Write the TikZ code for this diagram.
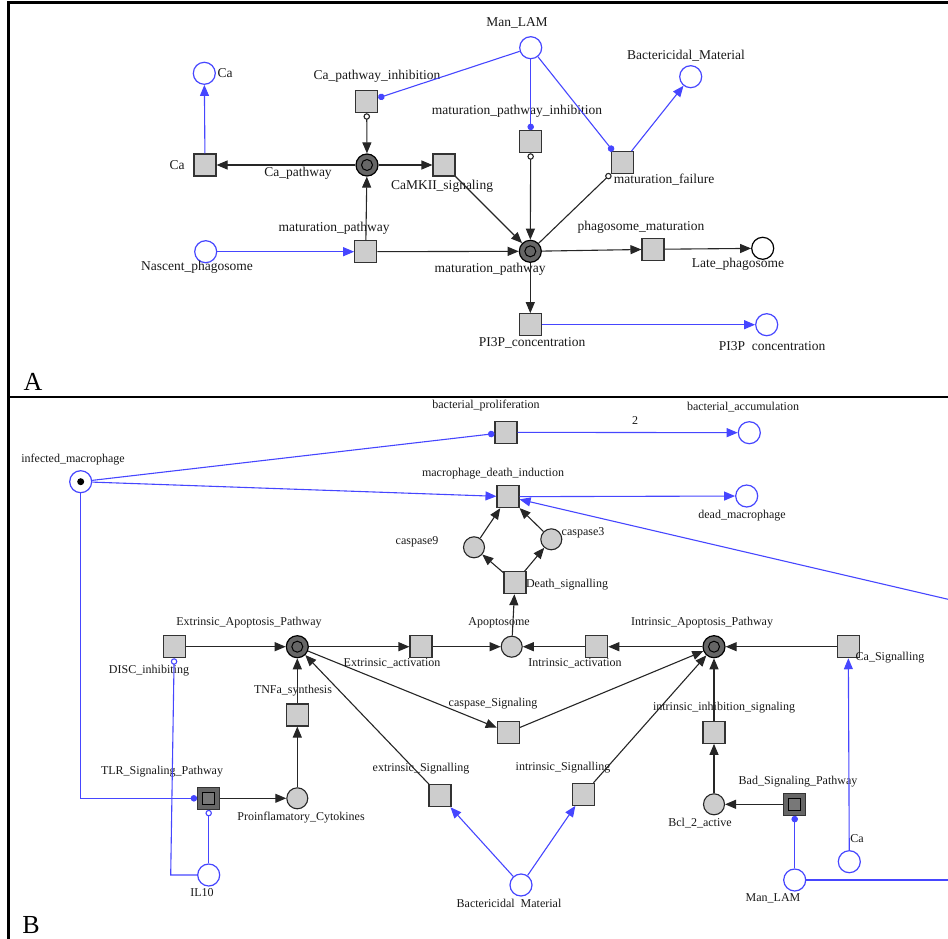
\documentclass[tikz,border=0pt]{standalone}
\usepackage{fontspec}
\setmainfont{Liberation Serif}
\usetikzlibrary{arrows.meta}
\definecolor{pblue}{RGB}{70,70,255}
\definecolor{tgray}{RGB}{205,205,205}
\definecolor{dgray}{RGB}{102,102,102}
\definecolor{igray}{RGB}{120,120,120}
\begin{document}
\begin{tikzpicture}[x=1pt,y=-1pt,
  trans/.style={rectangle, draw=black!80, fill=tgray, minimum size=22pt, inner sep=0pt, line width=1.1pt},
  dtrans/.style={trans, fill=dgray, path picture={\draw[black, fill=igray, line width=1pt, shift={(path picture bounding box.center)}] (-6,-6) rectangle (6,6);}},
  place/.style={circle, draw=pblue, fill=white, minimum size=22pt, inner sep=0pt, line width=1.2pt},
  tplace/.style={place, path picture={\fill[black] (path picture bounding box.center) circle (3.5pt);}},
  kplace/.style={place, draw=black},
  gplace/.style={circle, draw=black!85, fill=tgray, minimum size=21pt, inner sep=0pt, line width=1.1pt},
  dplace/.style={circle, draw=black, fill=dgray, minimum size=22pt, inner sep=0pt, line width=1.2pt, path picture={\draw[black, line width=1pt] (path picture bounding box.center) circle (5.5pt);}},
  labA/.style={font=\fontsize{13.5}{15}\selectfont, text=black!90, inner sep=0pt},
  labB/.style={font=\fontsize{12}{14}\selectfont, text=black!90, inner sep=0pt},
  big/.style={font=\fontsize{26}{28}\selectfont, inner sep=0pt},
  arr/.style={-{Triangle[length=11pt,width=9pt]}, line width=1.1pt, draw=black!85},
  barr/.style={-{Triangle[length=11pt,width=9pt]}, line width=1.1pt, draw=pblue},
  rd/.style={-{Circle[length=6.5pt]}, line width=1.1pt, draw=pblue},
  binh/.style={-{Circle[length=6.5pt, fill=white]}, line width=1.1pt, draw=pblue},
  inharr/.style={{Circle[length=6.5pt, fill=white]}-{Triangle[length=11pt,width=9pt]}, line width=1.1pt, draw=black!85},
  inh/.style={-{Circle[length=6.5pt, fill=white]}, line width=1.1pt, draw=black!85},
  frame/.style={line width=2.5pt, draw=black}
]
\useasboundingbox (0,0) rectangle (948,939);
% frame
\draw[frame] (8,2.5) -- (948,2.5);
\draw[frame] (8.5,1.3) -- (8.5,939);
\draw[frame] (8,397) -- (948,397);

% ===== Panel A =====
\node[place] (caP) at (204.3,73.3) {};
\node[trans] (caT) at (205,165) {};
\node[trans] (cpi) at (366.7,101.7) {};
\node[dplace] (cap) at (367,165) {};
\node[trans] (camk) at (444,165) {};
\node[place] (man) at (530.7,47.7) {};
\node[place] (bact) at (690.7,76.7) {};
\node[trans] (mpi) at (530.7,141.7) {};
\node[trans] (mf) at (622.3,162.7) {};
\node[trans] (mpt) at (365.7,251.7) {};
\node[place] (nas) at (205.7,251.7) {};
\node[dplace] (mpp) at (530.3,251.3) {};
\node[trans] (phm) at (653,249.3) {};
\node[kplace] (late) at (762.7,248.3) {};
\node[trans] (pi3t) at (530.3,324.7) {};
\node[place] (pi3p) at (766.7,324.7) {};

\node[labA] (lcaP) at (225,73) {Ca};
\node[labA] (lcaT) at (177,165) {Ca};
\node[labA] (lcpi) at (377,76) {Ca\_pathway\_inhibition};
\node[labA] (lcap) at (298,173) {Ca\_pathway};
\node[labA] (lcamk) at (442,186) {CaMKII\_signaling};
\node[labA] (lman) at (517,23) {Man\_LAM};
\node[labA] (lbact) at (686,56) {Bactericidal\_Material};
\node[labA] (lmpi) at (517,111) {maturation\_pathway\_inhibition};
\node[labA] (lmf) at (664,180) {maturation\_failure};
\node[labA] (lmpt) at (334,228) {maturation\_pathway};
\node[labA] (lnas) at (197,267) {Nascent\_phagosome};
\node[labA] (lmpp) at (490,269) {maturation\_pathway};
\node[labA] (lphm) at (641,227) {phagosome\_maturation};
\node[labA] (llate) at (738,264) {Late\_phagosome};
\node[labA] (lpi3t) at (532,343) {PI3P\_concentration};
\node[labA] (lpi3p) at (772,346) {PI3P\enspace concentration};
\node[big] (lA) at (33,382) {A};

\draw[barr] (caT) -- (caP);
\draw[arr] (cap) -- (caT);
\draw[arr] (cap) -- (camk);
\draw[inharr] (cpi) -- (cap);
\draw[rd] (man) -- (cpi);
\draw[rd] (man) -- (mpi);
\draw[rd] (man) -- (mf);
\draw[barr] (mf) -- (bact);
\draw[inharr] (mpi) -- (mpp);
\draw[inh] (mpp) -- (mf);
\draw[arr] (camk) -- (mpp);
\draw[arr] (mpt) -- (cap);
\draw[arr] (mpt) -- (mpp);
\draw[barr] (nas) -- (mpt);
\draw[arr] (mpp) -- (phm);
\draw[arr] (phm) -- (late);
\draw[arr] (mpp) -- (pi3t);
\draw[barr] (pi3t) -- (pi3p);

% ===== Panel B =====
\node[tplace] (im) at (80.7,481.7) {};
\node[trans] (bp) at (506,432.3) {};
\node[place] (ba) at (749.3,432.7) {};
\node[trans] (mdi) at (508,496.7) {};
\node[place] (dm) at (746.7,496) {};
\node[gplace] (c9) at (474,547.3) {};
\node[gplace] (c3) at (551.3,539.3) {};
\node[trans] (ds) at (515,582.7) {};
\node[gplace] (apo) at (511.7,646.7) {};
\node[trans] (ea) at (421,646.7) {};
\node[trans] (ia) at (596.7,646.7) {};
\node[dplace] (eap) at (297.3,646.7) {};
\node[trans] (disc) at (174.3,646.7) {};
\node[trans] (tnf) at (297.3,715) {};
\node[dtrans] (tlr) at (208.7,798.3) {};
\node[gplace] (pro) at (297.3,798.3) {};
\node[place] (il) at (208.7,875) {};
\node[trans] (es) at (440,795.7) {};
\node[trans] (is) at (583.3,794.3) {};
\node[trans] (cs) at (508.3,732.3) {};
\node[place] (bm) at (521,885) {};
\node[dplace] (iap) at (714,646.7) {};
\node[trans] (cas) at (848.3,646.7) {};
\node[trans] (iis) at (714,732.3) {};
\node[gplace] (bcl) at (714,804.3) {};
\node[dtrans] (bad) at (794.7,804.3) {};
\node[place] (caB) at (849.3,861.7) {};
\node[place] (manB) at (794.7,880) {};
\coordinate (r1) at (952,600.2);
\coordinate (r2) at (952,880);
\coordinate (imc) at (80.7,798.3);
\coordinate (ilc) at (170.7,875);

\node[labB] (lim) at (73,460) {infected\_macrophage};
\node[labB] (lbp) at (486,406) {bacterial\_proliferation};
\node[labB] (lba) at (743,407) {bacterial\_accumulation};
\node[labB] (l2) at (635,421) {2};
\node[labB] (lmdi) at (493,474) {macrophage\_death\_induction};
\node[labB] (ldm) at (742,516) {dead\_macrophage};
\node[labB] (lc9) at (417,542) {caspase9};
\node[labB] (lc3) at (583,533) {caspase3};
\node[labB] (lds) at (567,585) {Death\_signalling};
\node[labB] (lapo) at (499,623) {Apoptosome};
\node[labB] (lea) at (392,663) {Extrinsic\_activation};
\node[labB] (lia) at (575,663) {Intrinsic\_activation};
\node[labB] (leap) at (249,623) {Extrinsic\_Apoptosis\_Pathway};
\node[labB] (ldisc) at (149,671) {DISC\_inhibiting};
\node[labB] (ltnf) at (293,691) {TNFa\_synthesis};
\node[labB] (ltlr) at (162,772) {TLR\_Signaling\_Pathway};
\node[labB] (lpro) at (301,818) {Proinflamatory\_Cytokines};
\node[labB] (lil) at (202,893) {IL10};
\node[big] (lB) at (31,925) {B};
\node[labB] (les) at (421,769) {extrinsic\_Signalling};
\node[labB] (lis) at (563,768) {intrinsic\_Signalling};
\node[labB] (lcs) at (493,704) {caspase\_Signaling};
\node[labB] (lbm) at (509,903) {Bactericidal\enspace Material};
\node[labB] (liap) at (702,623) {Intrinsic\_Apoptosis\_Pathway};
\node[labB] (lcas) at (890,658) {Ca\_Signalling};
\node[labB] (liis) at (724,708) {intrinsic\_inhibition\_signaling};
\node[labB] (lbcl) at (700,823) {Bcl\_2\_active};
\node[labB] (lbad) at (798,782) {Bad\_Signaling\_Pathway};
\node[labB] (lcaB) at (857,839) {Ca};
\node[labB] (lmanB) at (773,898) {Man\_LAM};

\draw[rd] (im) -- (bp);
\draw[barr] (bp) -- (ba);
\draw[barr] (im) -- (mdi);
\draw[barr] (mdi) -- (dm);
\draw[barr] (r1) -- (mdi);
\draw[line width=1.1pt, draw=pblue] (manB) -- (r2);
\draw[rd] (manB) -- (bad);
\draw[arr] (bad) -- (bcl);
\draw[arr] (bcl) -- (iis);
\draw[arr] (iis) -- (iap);
\draw[barr] (caB) -- (cas);
\draw[arr] (cas) -- (iap);
\draw[arr] (iap) -- (ia);
\draw[arr] (ia) -- (apo);
\draw[arr] (eap) -- (ea);
\draw[arr] (ea) -- (apo);
\draw[arr] (apo) -- (ds);
\draw[arr] (ds) -- (c9);
\draw[arr] (ds) -- (c3);
\draw[arr] (c9) -- (mdi);
\draw[arr] (c3) -- (mdi);
\draw[arr] (disc) -- (eap);
\draw[binh] (il.west) -- (ilc) -- (disc);
\draw[binh] (il) -- (tlr);
\draw[rd] (im) -- (imc) -- (tlr);
\draw[arr] (tlr) -- (pro);
\draw[arr] (pro) -- (tnf);
\draw[arr] (tnf) -- (eap);
\draw[arr] (es) -- (eap);
\draw[arr] (eap) -- (cs);
\draw[arr] (cs) -- (iap);
\draw[arr] (is) -- (iap);
\draw[barr] (bm) -- (es);
\draw[barr] (bm) -- (is);
\end{tikzpicture}
\end{document}
